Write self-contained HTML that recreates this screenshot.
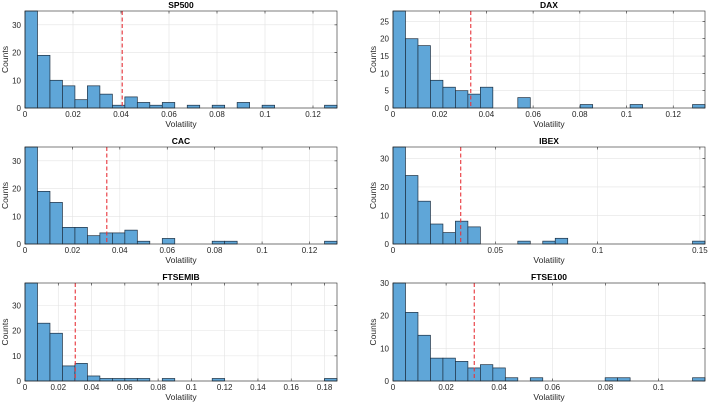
<!DOCTYPE html>
<html><head><meta charset="utf-8"><style>
body{margin:0;background:#fff;}
svg{display:block;font-family:"Liberation Sans",sans-serif;}
</style></head><body>
<svg id="fig" width="709" height="406" viewBox="0 0 709 406" xmlns="http://www.w3.org/2000/svg"></svg>
<script>
const titles = ["SP500","DAX","CAC","IBEX","FTSEMIB","FTSE100"];
const countsSP500 = [35,19,10,8,3,8,5,1,4,2,1,2,0,1,0,1,0,2,0,1,0,0,0,0,1];
const countsDAX = [28,20,18,8,6,5,4,6,0,0,3,0,0,0,0,1,0,0,0,1,0,0,0,0,1];
const countsCAC = [35,19,15,6,6,3,4,4,5,1,0,2,0,0,0,1,1,0,0,0,0,0,0,0,1];
const countsIBEX = [34,24,15,7,4,8,6,0,0,0,1,0,1,2,0,0,0,0,0,0,0,0,0,0,1];
const countsFTSEMIB = [39,23,19,6,7,2,1,1,1,1,0,1,0,0,0,1,0,0,0,0,0,0,0,0,1];
const countsFTSE100 = [30,21,14,7,7,6,4,5,4,1,0,1,0,0,0,0,0,1,1,0,0,0,0,0,1];
const binWidths = [0.0052,0.005344,0.005264,0.0061,0.0075,0.0047];
const means = [0.0405,0.0333,0.0345,0.0331,0.0302,0.0306];
const yMaxes = [35,28,35,34,39,30];
const xTicksSP500 = [0,0.02,0.04,0.06,0.08,0.1,0.12];
const xTicksDAX = [0,0.02,0.04,0.06,0.08,0.1,0.12];
const xTicksCAC = [0,0.02,0.04,0.06,0.08,0.1,0.12];
const xTicksIBEX = [0,0.05,0.1,0.15];
const xTicksFTSEMIB = [0,0.02,0.04,0.06,0.08,0.1,0.12,0.14,0.16,0.18];
const xTicksFTSE100 = [0,0.02,0.04,0.06,0.08,0.1];
const yTicksSP500 = [0,10,20,30];
const yTicksDAX = [0,5,10,15,20,25];
const yTicksCAC = [0,10,20,30];
const yTicksIBEX = [0,10,20,30];
const yTicksFTSEMIB = [0,10,20,30];
const yTicksFTSE100 = [0,10,20,30];

const allCounts=[countsSP500,countsDAX,countsCAC,countsIBEX,countsFTSEMIB,countsFTSE100];
const allXT=[xTicksSP500,xTicksDAX,xTicksCAC,xTicksIBEX,xTicksFTSEMIB,xTicksFTSE100];
const allYT=[yTicksSP500,yTicksDAX,yTicksCAC,yTicksIBEX,yTicksFTSEMIB,yTicksFTSE100];
const boxes=[[25,11,337,108],[393,11,705,108],[25,147,337,244],[393,147,705,244],[25,283,337,381],[393,283,705,381]];
const NS="http://www.w3.org/2000/svg";
const svg=document.getElementById('fig');
function mk(tag,attrs,parent){const e=document.createElementNS(NS,tag);for(const k in attrs)e.setAttribute(k,attrs[k]);(parent||svg).appendChild(e);return e;}
function fmt(v){return String(+v.toFixed(4));}
for(let p=0;p<6;p++){
  const [L,T,R,B]=boxes[p];
  const counts=allCounts[p], w=binWidths[p];
  const xMax=counts.length*w, yMax=yMaxes[p];
  const sx=v=>L+(v/xMax)*(R-L);
  const sy=v=>B-(v/yMax)*(B-T);
  const g=mk('g',{});
  
  
  mk('rect',{x:L,y:T,width:R-L,height:B-T,fill:'#fff'},g);
  allXT[p].forEach(t=>{const x=sx(t);
    const gl=mk('line',{x1:x,x2:x,y1:T,y2:B,stroke:'#e3e3e3','stroke-width':0.6},g);
    
    mk('line',{x1:x,x2:x,y1:B,y2:B-2.5,stroke:'#262626','stroke-width':0.6},g);
    mk('line',{x1:x,x2:x,y1:T,y2:T+2.5,stroke:'#262626','stroke-width':0.6},g);
    const tl=mk('text',{x:x,y:B+9,'font-size':8,'text-anchor':'middle',fill:'#262626'},g);tl.textContent=fmt(t);
    });
  allYT[p].forEach(t=>{const y=sy(t);
    const gl=mk('line',{x1:L,x2:R,y1:y,y2:y,stroke:'#e3e3e3','stroke-width':0.6},g);
    
    mk('line',{x1:L,x2:L+2.5,y1:y,y2:y,stroke:'#262626','stroke-width':0.6},g);
    mk('line',{x1:R,x2:R-2.5,y1:y,y2:y,stroke:'#262626','stroke-width':0.6},g);
    const tl=mk('text',{x:L-4,y:y+3,'font-size':8,'text-anchor':'end',fill:'#262626'},g);tl.textContent=t;
    });
  counts.forEach((c,i)=>{ if(c<=0) return;
    const top=Math.max(sy(c),T);
    const b=mk('rect',{x:sx(i*w),y:top,width:sx((i+1)*w)-sx(i*w),height:B-top,fill:'#5fa6d8',stroke:'#1c2e40','stroke-width':0.7},g);
    
    });
  const ml=mk('line',{x1:sx(means[p]),x2:sx(means[p]),y1:T,y2:B,stroke:'#e8343a','stroke-width':1.1,'stroke-dasharray':'4,2.5'},g);
  
  const bx=mk('rect',{x:L,y:T,width:R-L,height:B-T,fill:'none',stroke:'#262626','stroke-width':0.6},g);
  
  const ti=mk('text',{x:(L+R)/2,y:T-3,'font-size':8.5,'font-weight':'bold','text-anchor':'middle',fill:'#000'},g);ti.textContent=titles[p];
  
  const xl=mk('text',{x:(L+R)/2,y:B+19,'font-size':8.5,'text-anchor':'middle',fill:'#262626'},g);xl.textContent='Volatility';
  
  const yx=L-17, yy=(T+B)/2;
  const yl=mk('text',{x:yx,y:yy,'font-size':8.5,'text-anchor':'middle',fill:'#262626',transform:`rotate(-90 ${yx} ${yy})`},g);yl.textContent='Counts';
  
}
</script>
</body></html>
